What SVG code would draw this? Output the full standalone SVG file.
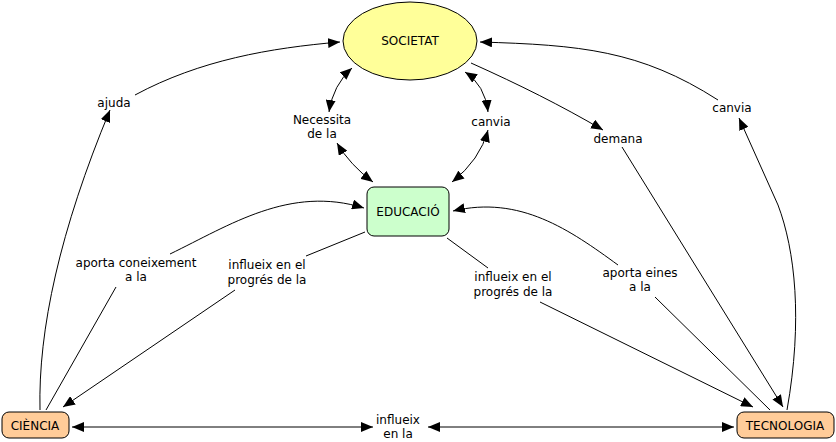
<svg xmlns="http://www.w3.org/2000/svg" width="836" height="442" viewBox="0 0 836 442">
<defs>
<marker id="ah" viewBox="0 0 12 10" refX="12" refY="5" markerWidth="12" markerHeight="10" markerUnits="userSpaceOnUse" orient="auto-start-reverse">
<path d="M0,0 L12,5 L0,10 z" fill="#000"/>
</marker>
<style>
.t{font-family:"DejaVu Sans",Verdana,sans-serif;font-size:12px;fill:#000;text-anchor:middle}
.c{fill:none;stroke:#000;stroke-width:1}
.n{stroke:#000;stroke-width:1}
</style>
</defs>
<rect width="836" height="442" fill="#fff"/>
<g id="connectors">
<path class="c" d="M40,410 C38,330 60,230 110,110" marker-end="url(#ah)"/>
<path class="c" d="M135,95 C200,60 270,48 340,42" marker-end="url(#ah)"/>
<path class="c" d="M352,68 Q333,85 329,112" marker-start="url(#ah)" marker-end="url(#ah)"/>
<path class="c" d="M337,143 Q350,165 373,182" marker-start="url(#ah)" marker-end="url(#ah)"/>
<path class="c" d="M465,72 Q485,85 488,112" marker-start="url(#ah)" marker-end="url(#ah)"/>
<path class="c" d="M488,130 Q480,160 452,182" marker-start="url(#ah)" marker-end="url(#ah)"/>
<path class="c" d="M471,63 C520,85 560,105 603,130" marker-end="url(#ah)"/>
<path class="c" d="M622,147 L783,407" marker-end="url(#ah)"/>
<path class="c" d="M787,410 C803,320 795,250 778,205 L739,118" marker-end="url(#ah)"/>
<path class="c" d="M718,100 C640,50 580,45 480,42" marker-end="url(#ah)"/>
<path class="c" d="M46,410 L116,287"/>
<path class="c" d="M170,254 C230,225 290,185 364,208" marker-end="url(#ah)"/>
<path class="c" d="M365,232 L306,256"/>
<path class="c" d="M235,290 L63,407" marker-end="url(#ah)"/>
<path class="c" d="M447,238 L488,268"/>
<path class="c" d="M540,302 L753,407" marker-end="url(#ah)"/>
<path class="c" d="M770,410 L655,297"/>
<path class="c" d="M618,265 C570,230 520,195 453,211" marker-end="url(#ah)"/>
<path class="c" d="M72,427 L373,427" marker-start="url(#ah)" marker-end="url(#ah)"/>
<path class="c" d="M428,427 L734,427" marker-start="url(#ah)" marker-end="url(#ah)"/>
</g>
<g id="societat">
<ellipse class="n" cx="410" cy="41" rx="67" ry="39" fill="#ffff99"/>
<text class="t" x="410" y="45">SOCIETAT</text>
</g>
<g id="educacio">
<rect class="n" x="367" y="187" width="82" height="49" rx="7" fill="#ccffcc"/>
<text class="t" x="408" y="216">EDUCACIÓ</text>
</g>
<g id="ciencia">
<rect class="n" x="2" y="412" width="67" height="26" rx="7" fill="#ffcc99"/>
<text class="t" x="35" y="430">CIÈNCIA</text>
</g>
<g id="tecnologia">
<rect class="n" x="737" y="412" width="97" height="26" rx="7" fill="#ffcc99"/>
<text class="t" x="785" y="430">TECNOLOGIA</text>
</g>
<g id="l-ajuda"><text class="t" x="114" y="107">ajuda</text></g>
<g id="l-necessita"><text class="t" x="322" y="124">Necessita</text><text class="t" x="322" y="138">de la</text></g>
<g id="l-canvia1"><text class="t" x="491" y="126">canvia</text></g>
<g id="l-demana"><text class="t" x="618" y="143">demana</text></g>
<g id="l-canvia2"><text class="t" x="732" y="112">canvia</text></g>
<g id="l-aporta-con"><text class="t" x="136" y="267">aporta coneixement</text><text class="t" x="136" y="281">a la</text></g>
<g id="l-influeix1"><text class="t" x="267" y="269">influeix en el</text><text class="t" x="267" y="284">progrés de la</text></g>
<g id="l-influeix2"><text class="t" x="513" y="281">influeix en el</text><text class="t" x="513" y="296">progrés de la</text></g>
<g id="l-aporta-eines"><text class="t" x="640" y="277">aporta eines</text><text class="t" x="640" y="291">a la</text></g>
<g id="l-influeix3"><text class="t" x="398" y="424">influeix</text><text class="t" x="398" y="438">en la</text></g>
</svg>
